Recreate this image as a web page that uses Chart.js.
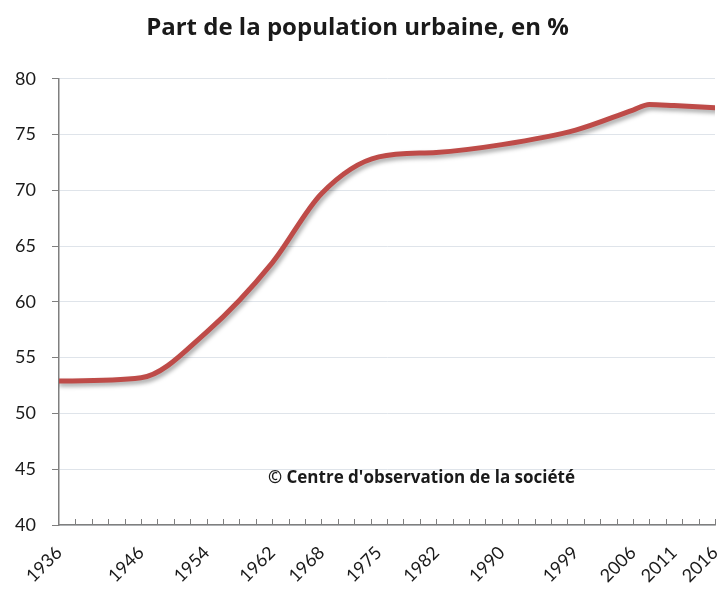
<!DOCTYPE html>
<html>
<head>
<meta charset="utf-8">
<script src="https://cdn.jsdelivr.net/npm/chart.js@4"></script>
<style>
  html, body { margin: 0; padding: 0; background: #fff; }
  #wrap { width: 721px; height: 590px; }
</style>
</head>
<body>
<div id="wrap"><canvas id="urbanChart" width="721" height="590"></canvas></div>
<script>
const dataYears = [1936, 1946, 1954, 1962, 1968, 1975, 1982, 1990, 1999, 2006, 2008, 2011, 2016];
const urbanShare = [52.9, 53.2, 57.3, 63.5, 69.7, 73.0, 73.4, 74.1, 75.4, 77.2, 77.7, 77.6, 77.4];
const labelYears = [1936, 1946, 1954, 1962, 1968, 1975, 1982, 1990, 1999, 2006, 2011, 2016];
const titleText = 'Part de la population urbaine, en %';
const sourceText = '\u00a9 Centre d\'observation de la soci\u00e9t\u00e9';

const fontFamily = 'Lato, "Open Sans", sans-serif';
const boldFamily = '"Open Sans", Lato, sans-serif';

// drop shadow under the line, like the Excel original
const lineShadow = {
    id: 'lineShadow',
    beforeDatasetsDraw(chart) {
        const c = chart.ctx;
        c.save();
        c.shadowColor = 'rgba(0, 0, 0, 0.35)';
        c.shadowBlur = 4;
        c.shadowOffsetX = 2;
        c.shadowOffsetY = 3;
    },
    afterDatasetsDraw(chart) {
        chart.ctx.restore();
    }
};

// small inner tick marks every 2 years + source note
const extras = {
    id: 'extras',
    afterDraw(chart) {
        const c = chart.ctx;
        const x = chart.scales.x;
        const y = chart.scales.y;
        const bottom = chart.chartArea.bottom;
        c.save();
        c.strokeStyle = '#7f7f7f';
        c.lineWidth = 1;
        for (let yr = 1938; yr <= 2016; yr += 2) {
            const px = Math.round(x.getPixelForValue(yr)) + 0.5;
            c.beginPath();
            c.moveTo(px, bottom);
            c.lineTo(px, bottom - 6);
            c.stroke();
        }
        c.fillStyle = '#1a1a1a';
        c.font = 'bold 17px ' + boldFamily;
        c.textAlign = 'center';
        c.textBaseline = 'middle';
        c.fillText(sourceText, x.getPixelForValue(1980.2), y.getPixelForValue(44.2));
        c.restore();
    }
};

const points = dataYears.map((yr, i) => ({ x: yr, y: urbanShare[i] }));

new Chart(document.getElementById('urbanChart').getContext('2d'), {
    type: 'line',
    data: {
        datasets: [{
            label: 'Population urbaine',
            data: points,
            borderColor: '#be4b48',
            borderWidth: 5,
            pointRadius: 0,
            fill: false,
            cubicInterpolationMode: 'monotone',
            borderCapStyle: 'round'
        }]
    },
    options: {
        responsive: false,
        animation: false,
        layout: {
            padding: { left: 0, right: 6, top: 0, bottom: 0 }
        },
        plugins: {
            legend: { display: false },
            tooltip: { enabled: false },
            title: {
                display: true,
                text: titleText,
                color: '#1a1a1a',
                font: { family: boldFamily, size: 24, weight: 'bold' },
                padding: { top: 14, bottom: 36 }
            }
        },
        scales: {
            x: {
                type: 'linear',
                min: 1936,
                max: 2016,
                afterBuildTicks: function (scale) {
                    scale.ticks = labelYears.map(v => ({ value: v }));
                },
                afterFit: function (scale) {
                    scale.height = 65;
                    scale.paddingLeft = 0;
                    scale.paddingRight = 0;
                },
                grid: { display: false },
                border: { display: true, color: '#7f7f7f', width: 1.5 },
                ticks: {
                    autoSkip: false,
                    maxRotation: 45,
                    minRotation: 45,
                    padding: 9,
                    color: '#1a1a1a',
                    font: { family: fontFamily, size: 18 },
                    callback: function (value) {
                        return String(value);
                    }
                }
            },
            y: {
                min: 40,
                max: 80,
                afterFit: function (scale) {
                    scale.width = 59;
                },
                ticks: {
                    stepSize: 5,
                    padding: 16,
                    color: '#1a1a1a',
                    font: { family: fontFamily, size: 18 }
                },
                grid: {
                    color: '#dfe4ea',
                    tickColor: '#7f7f7f',
                    tickLength: 7,
                    lineWidth: 1
                },
                border: { display: true, color: '#7f7f7f', width: 1.5 }
            }
        }
    },
    plugins: [lineShadow, extras]
});
</script>
</body>
</html>
